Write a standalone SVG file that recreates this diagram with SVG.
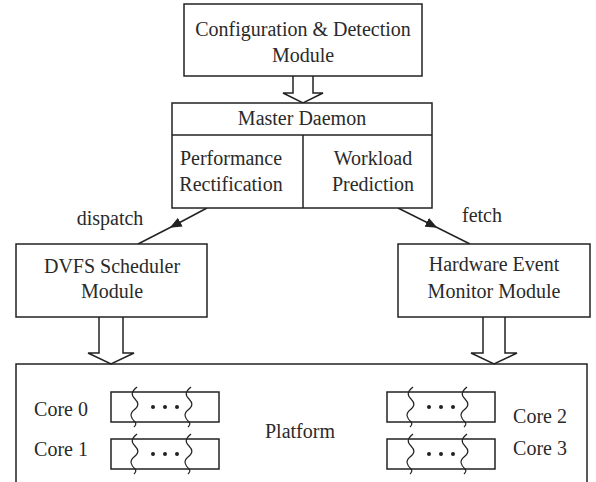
<svg xmlns="http://www.w3.org/2000/svg" width="596" height="482" viewBox="0 0 596 482">
<style>
.box{fill:#fff;stroke:#222;stroke-width:1.5}
.ln{fill:none;stroke:#222;stroke-width:1.5}
.t{font-family:"Liberation Serif","Times New Roman",serif;font-size:20px;fill:#2a2a2a;text-anchor:middle}
.wv{fill:none;stroke:#222;stroke-width:1.2}
</style>
<defs>
<marker id="ah" markerWidth="12" markerHeight="10" refX="6" refY="5" orient="auto" markerUnits="userSpaceOnUse">
<path d="M0,0 L12,5 L0,10 z" fill="#222"/>
</marker>
<g id="core">
<rect x="0" y="0" width="108" height="30" class="box"/>
<path class="wv" d="M26,-5 C20,0 20,3 24,7 C28,11 28,14 23,18 C18,22 20,26 24,30 C26,32 24,34 23,35"/>
<path class="wv" d="M80,-5 C74,0 74,3 78,7 C82,11 82,14 77,18 C72,22 74,26 78,30 C80,32 78,34 77,35"/>
<circle cx="42" cy="15" r="2" fill="#222"/>
<circle cx="54" cy="15" r="2" fill="#222"/>
<circle cx="66" cy="15" r="2" fill="#222"/>
</g>
</defs>
<rect width="596" height="482" fill="#fff"/>

<g id="connectors">
<path class="ln" d="M207,208 L175,225" marker-end="url(#ah)"/>
<path class="ln" d="M175,225 L138,244"/>
<path class="ln" d="M398,208 L432,225" marker-end="url(#ah)"/>
<path class="ln" d="M432,225 L470,244"/>
<path class="box" d="M293,76 V93 H283 L303,103 L323,93 H313 V76"/>
<path class="box" d="M99,317 V353 H88 L111,364 L134,353 H123 V317"/>
<path class="box" d="M483,317 V353 H471 L494,364 L517,353 H505 V317"/>
</g>

<g id="config">
<rect x="184" y="4" width="238" height="72" class="box"/>
<text class="t" x="303" y="36">Configuration &amp; Detection</text>
<text class="t" x="303" y="62">Module</text>
</g>

<g id="master">
<rect x="172" y="103" width="260" height="105" class="box"/>
<line x1="172" y1="135" x2="432" y2="135" class="ln"/>
<line x1="303" y1="135" x2="303" y2="208" class="ln"/>
<text class="t" x="302" y="125">Master Daemon</text>
<text class="t" x="231" y="165">Performance</text>
<text class="t" x="231" y="191">Rectification</text>
<text class="t" x="373" y="165">Workload</text>
<text class="t" x="373" y="191">Prediction</text>
</g>

<g id="dispatch-label"><text class="t" x="110" y="225">dispatch</text></g>
<g id="fetch-label"><text class="t" x="482" y="222">fetch</text></g>

<g id="dvfs">
<rect x="16" y="244" width="191" height="73" class="box"/>
<text class="t" x="112" y="273">DVFS Scheduler</text>
<text class="t" x="112" y="298">Module</text>
</g>

<g id="hw">
<rect x="398" y="244" width="192" height="73" class="box"/>
<text class="t" x="494" y="271">Hardware Event</text>
<text class="t" x="494" y="298">Monitor Module</text>
</g>

<g id="platform">
<path class="ln" d="M16,490 V364 H587 V490"/>
<text class="t" x="300" y="438">Platform</text>
<text class="t" x="61" y="416">Core 0</text>
<text class="t" x="61" y="456">Core 1</text>
<text class="t" x="540" y="423">Core 2</text>
<text class="t" x="540" y="455">Core 3</text>
<use href="#core" x="111" y="392"/>
<use href="#core" x="111" y="439"/>
<use href="#core" x="387" y="392"/>
<use href="#core" x="387" y="439"/>
</g>
</svg>
